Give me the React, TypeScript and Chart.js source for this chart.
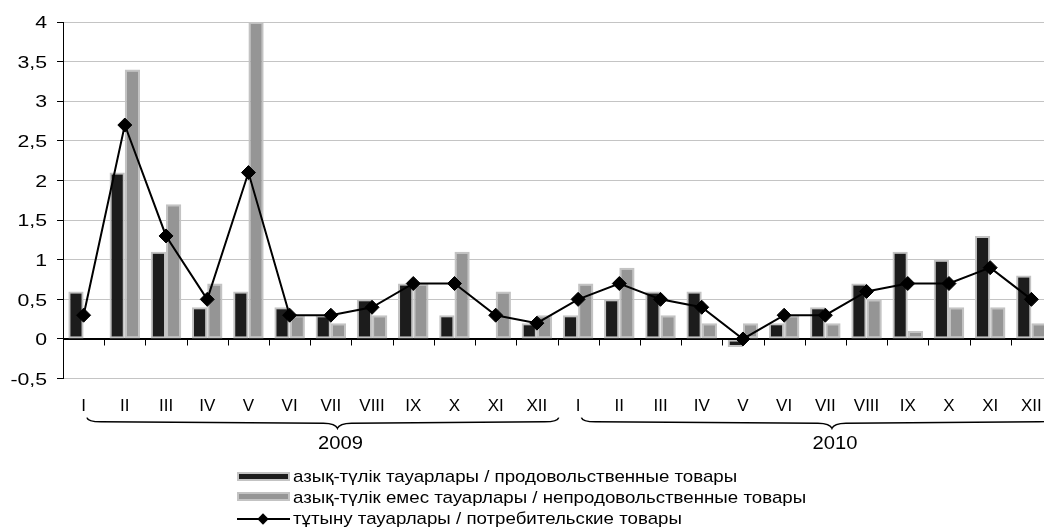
import React, { useEffect, useRef } from 'react';
import { Chart, registerables } from 'chart.js';

Chart.register(...registerables);

const monthLabels = ['I', 'II', 'III', 'IV', 'V', 'VI', 'VII', 'VIII', 'IX', 'X', 'XI', 'XII'];
const years = ['2009', '2010'];

const food2009 = [0.6, 2.1, 1.1, 0.4, 0.6, 0.4, 0.3, 0.5, 0.7, 0.3, 0, 0.2];
const food2010 = [0.3, 0.5, 0.6, 0.6, -0.1, 0.2, 0.4, 0.7, 1.1, 1.0, 1.3, 0.8];
const nonFood2009 = [0, 3.4, 1.7, 0.7, 4.0, 0.3, 0.2, 0.3, 0.7, 1.1, 0.6, 0.3];
const nonFood2010 = [0.7, 0.9, 0.3, 0.2, 0.2, 0.3, 0.2, 0.5, 0.1, 0.4, 0.4, 0.2];
const consumer2009 = [0.3, 2.7, 1.3, 0.5, 2.1, 0.3, 0.3, 0.4, 0.7, 0.7, 0.3, 0.2];
const consumer2010 = [0.5, 0.7, 0.5, 0.4, 0.0, 0.3, 0.3, 0.6, 0.7, 0.7, 0.9, 0.5];

const seriesNames = [
  'азық-түлік тауарлары / продовольственные товары',
  'азық-түлік емес тауарлары / непродовольственные товары',
  'тұтыну тауарлары / потребительские товары',
];

const FOOD_COLOR = '#1c1c1c';
const NONFOOD_COLOR = '#959595';
const BAR_BORDER = '#c3c3c3';
const FONT = '"Liberation Sans", Arial, sans-serif';

const categories = [...monthLabels, ...monthLabels];

const decorPlugin = {
  id: 'decor',
  afterDatasetsDraw(chart: any) {
    const { ctx, chartArea, scales } = chart;
    const xs = scales.x;
    const ys = scales.y;
    const y0 = Math.round(ys.getPixelForValue(0)) + 0.5;
    const w = xs.getPixelForValue(1) - xs.getPixelForValue(0);
    ctx.save();
    ctx.strokeStyle = '#000';
    ctx.lineWidth = 1;
    ctx.beginPath();
    ctx.moveTo(chartArea.left, y0);
    ctx.lineTo(chartArea.right, y0);
    for (let i = 0; i <= categories.length; i++) {
      const x = Math.round(xs.getPixelForValue(i) - w / 2) + 0.5;
      ctx.moveTo(x, y0);
      ctx.lineTo(x, y0 + 6);
    }
    ctx.stroke();
    ctx.restore();
  },
  afterDraw(chart: any) {
    const { ctx, chartArea, scales } = chart;
    const xs = scales.x;
    const ys = scales.y;
    const w = xs.getPixelForValue(1) - xs.getPixelForValue(0);
    const b = chartArea.bottom;
    ctx.save();
    ctx.fillStyle = '#000';
    // category labels
    ctx.font = '17px ' + FONT;
    ctx.textAlign = 'center';
    ctx.textBaseline = 'middle';
    categories.forEach((lab, i) => {
      ctx.fillText(lab, xs.getPixelForValue(i), b + 27.5);
    });
    // y labels
    ctx.textAlign = 'right';
    ys.ticks.forEach((t: any) => {
      const y = ys.getPixelForValue(t.value);
      const txt = String(t.value).replace('.', ',');
      ctx.save();
      ctx.translate(47, y + 1.5);
      ctx.scale(1.25, 1);
      ctx.fillText(txt, 0, 0);
      ctx.restore();
    });
    // braces and years
    ctx.strokeStyle = '#000';
    ctx.lineWidth = 1.5;
    years.forEach((yr, g) => {
      const first = g * monthLabels.length;
      const last = first + monthLabels.length - 1;
      const start = xs.getPixelForValue(first) + 0.08 * w;
      const end = xs.getPixelForValue(last) + 0.53 * w;
      const tip = start + 0.531 * (end - start);
      const yT = b + 39;
      const yM = b + 43.2;
      const yN = b + 44.6;
      const yB = b + 49.6;
      ctx.beginPath();
      ctx.moveTo(start, yT);
      ctx.quadraticCurveTo(start + 1, yM, start + 14, yM);
      ctx.lineTo(tip - 14, yN);
      ctx.quadraticCurveTo(tip - 2, yN + 0.2, tip, yB);
      ctx.quadraticCurveTo(tip + 2, yN + 0.2, tip + 14, yN);
      ctx.lineTo(end - 14, yM);
      ctx.quadraticCurveTo(end - 1, yM, end, yT);
      ctx.stroke();
      ctx.save();
      ctx.font = '18px ' + FONT;
      ctx.textAlign = 'center';
      ctx.translate(tip + 3, b + 65);
      ctx.scale(1.12, 1);
      ctx.fillText(yr, 0, 0);
      ctx.restore();
    });
    ctx.restore();
  },
};

export default function App() {
  const canvasRef = useRef<HTMLCanvasElement | null>(null);

  useEffect(() => {
    document.body.style.margin = '0';
    const canvas = canvasRef.current;
    if (!canvas) return;
    const chart = new Chart(canvas, {
      type: 'bar',
      data: {
        labels: categories,
        datasets: [
          {
            type: 'line',
            label: seriesNames[2],
            data: [...consumer2009, ...consumer2010],
            borderColor: '#000',
            backgroundColor: '#000',
            borderWidth: 2,
            pointStyle: 'rectRot',
            pointRadius: 7,
            pointBackgroundColor: '#000',
            pointBorderColor: '#000',
            pointBorderWidth: 1,
            tension: 0,
            order: 0,
          } as any,
          {
            type: 'bar',
            label: seriesNames[0],
            data: [...food2009, ...food2010],
            backgroundColor: FOOD_COLOR,
            borderColor: BAR_BORDER,
            borderWidth: 2,
            borderSkipped: false,
            categoryPercentage: 0.74,
            barPercentage: 1,
            order: 1,
          },
          {
            type: 'bar',
            label: seriesNames[1],
            data: [...nonFood2009, ...nonFood2010],
            backgroundColor: NONFOOD_COLOR,
            borderColor: BAR_BORDER,
            borderWidth: 2,
            borderSkipped: false,
            categoryPercentage: 0.74,
            barPercentage: 1,
            order: 2,
          },
        ],
      },
      options: {
        responsive: false,
        animation: false,
        devicePixelRatio: 1,
        layout: { padding: { top: 22, right: 5, left: 0, bottom: 0 } },
        plugins: { legend: { display: false }, tooltip: { enabled: false } },
        scales: {
          x: {
            ticks: { display: false },
            grid: { display: false },
            border: { display: false },
            afterFit: (s: any) => {
              s.height = 148.4;
            },
          },
          y: {
            min: -0.5,
            max: 4,
            ticks: { display: false, stepSize: 0.5 },
            grid: {
              color: (c: any) => (c.tick && c.tick.value === 0 ? '#000' : '#c4c4c4'),
              tickColor: '#000',
              tickLength: 6,
              drawTicks: true,
            },
            border: { display: true, color: '#000', width: 1 },
            afterFit: (s: any) => {
              s.width = 63;
            },
          },
        },
      },
      plugins: [decorPlugin],
    });
    return () => chart.destroy();
  }, []);

  const textStyle: React.CSSProperties = {
    position: 'absolute',
    left: 293,
    font: '17px ' + FONT,
    lineHeight: '20px',
    whiteSpace: 'nowrap',
    transform: 'scaleX(1.1)',
    transformOrigin: 'left center',
    color: '#000',
  };

  return (
    <div style={{ position: 'relative', width: 1044, height: 527, overflow: 'hidden', background: '#fff' }}>
      <canvas ref={canvasRef} width={1060} height={527} style={{ position: 'absolute', left: 0, top: 0 }} />
      <div style={{ position: 'absolute', left: 237, top: 472, width: 49, height: 5, background: FOOD_COLOR, border: '2px solid ' + BAR_BORDER }} />
      <div style={{ ...textStyle, top: 467 }}>{seriesNames[0]}</div>
      <div style={{ position: 'absolute', left: 237, top: 492, width: 49, height: 5, background: NONFOOD_COLOR, border: '2px solid ' + BAR_BORDER }} />
      <div style={{ ...textStyle, top: 488 }}>{seriesNames[1]}</div>
      <div style={{ position: 'absolute', left: 237, top: 518, width: 53, height: 2, background: '#000' }} />
      <div style={{ position: 'absolute', left: 259, top: 515, width: 8, height: 8, background: '#000', transform: 'rotate(45deg)' }} />
      <div style={{ ...textStyle, top: 509 }}>{seriesNames[2]}</div>
    </div>
  );
}
